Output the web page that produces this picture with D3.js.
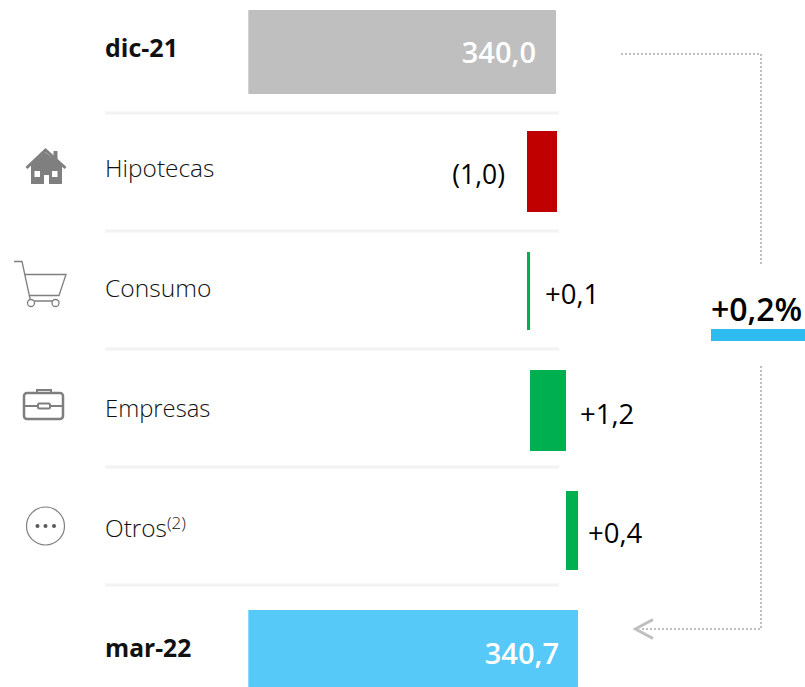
<!DOCTYPE html>
<html><head><meta charset="utf-8">
<script src="https://cdn.jsdelivr.net/npm/d3@7"></script>
<style>html,body{margin:0;padding:0;background:#fff}svg{display:block}text{font-family:"Open Sans",sans-serif}</style>
</head><body><div id="c"></div>
<script>
const categories=["dic-21","Hipotecas","Consumo","Empresas","Otros","mar-22"];
const deltas=[null,-1.0,0.1,1.2,0.4,null];
const totals=[340.0,null,null,null,null,340.7];
const valueLabels=["340,0","(1,0)","+0,1","+1,2","+0,4","340,7"];
const changeLabel="+0,2%";
const axisBase=329.71;
const W=805,H=687;
const svg=d3.select("#c").append("svg").attr("width",W).attr("height",H);
const x=d3.scaleLinear().domain([339,341]).range([527,587]);
const tops=[10,131,252,370,491,610],heights=[84,81,78,81,79,77];
const seps=[113,231,349,467,585];
svg.selectAll("rect.sep").data(seps).join("rect").attr("class","sep").attr("x",105).attr("width",454).attr("y",d=>d-1.5).attr("height",3).attr("fill","#f2f2f2");
let run=totals[0];
const bars=categories.map((c,i)=>{
  if(totals[i]!=null)return{i,a:axisBase,b:totals[i],fill:i==0?"#bfbfbf":"#56c9f8"};
  const s=run;run+=deltas[i];
  return{i,a:Math.min(s,run),b:Math.max(s,run),fill:deltas[i]<0?"#c00000":"#00b050"};
});
svg.selectAll("rect.bar").data(bars).join("rect").attr("class","bar")
 .attr("x",d=>x(d.a)).attr("width",d=>x(d.b)-x(d.a)-(d.i==0?1:0)).attr("y",d=>tops[d.i]).attr("height",d=>heights[d.i]).attr("rx",d=>d.i==0?1:0).attr("fill",d=>d.fill);
const labY=[57,177,297,417,537,657];
const labS=[25,24.400,24.600,23.800,24.400,24.600];
categories.forEach((c,i)=>{
  const bold=i==0||i==5;
  const t=svg.append("text").attr("x",105).attr("y",labY[i]).attr("font-size",labS[i]).attr("font-weight",bold?700:300).attr("fill","#111").text(c);
  if(i==4)t.append("tspan").attr("font-size",17).attr("dy",-8).text("(2)");
});
const VS=27.500;
svg.append("text").attr("x",x(340)-21).attr("y",63).attr("text-anchor","end").attr("font-size",29).attr("font-weight",600).attr("fill","#fff").text(valueLabels[0]);
svg.append("text").attr("x",x(340.7)-19).attr("y",664).attr("text-anchor","end").attr("font-size",29).attr("font-weight",600).attr("fill","#fff").text(valueLabels[5]);
svg.append("text").attr("x",x(339)-22).attr("y",184).attr("text-anchor","end").attr("font-size",26.500).attr("fill","#000").text(valueLabels[1]);
[[2,304,15],[3,424,14],[4,543,10]].forEach(([i,y,o])=>{
  svg.append("text").attr("x",x(bars[i].b)+o).attr("y",y).attr("font-size",VS).attr("fill","#000").text(valueLabels[i]);
});
svg.append("text").attr("x",711).attr("y",321).attr("font-size",32).attr("font-weight",600).attr("fill","#000").text(changeLabel);
svg.append("rect").attr("x",711).attr("y",329).attr("width",94).attr("height",12).attr("fill","#2dbbf0");
const dot=p=>svg.append("path").attr("d",p).attr("fill","none").attr("stroke","#bfbfbf").attr("stroke-width",2).attr("stroke-dasharray","2 2");
dot("M621,54H761V265");
dot("M761,366V629H640");
svg.append("path").attr("d","M653,619.500L635.500,629L653,638.500").attr("fill","none").attr("stroke","#bfbfbf").attr("stroke-width",3);
const ic="#7f7f7f";
svg.append("path").attr("fill",ic).attr("fill-rule","evenodd").attr("d","M31,165L45,152L62,165V184H49V175H44V184H31ZM34.500,171V177H40V171ZM52,171V177H57.500V171Z");
svg.append("path").attr("fill","none").attr("stroke",ic).attr("stroke-width",3).attr("d","M26.500,168L45.500,150L65.500,168");
svg.append("rect").attr("x",53.500).attr("y",151).attr("width",4).attr("height",9).attr("fill",ic);
const cart=svg.append("g").attr("fill","none").attr("stroke",ic).attr("stroke-width",1.300);
cart.append("path").attr("d","M14,261.500H22L30.500,301H58M25,274.500H66L59,295.500H30");
cart.append("circle").attr("cx",31).attr("cy",303).attr("r",3.500).attr("fill","#fff");
cart.append("circle").attr("cx",55.500).attr("cy",303).attr("r",3.500).attr("fill","#fff");
const br=svg.append("g").attr("fill","none").attr("stroke",ic).attr("stroke-width",2.500);
br.append("rect").attr("x",24).attr("y",393).attr("width",39).attr("height",26).attr("rx",3);
br.append("path").attr("stroke-width",2).attr("d","M37,392V390H51V392M24,406H38M50,406H63");
br.append("rect").attr("x",38).attr("y",403.500).attr("width",12).attr("height",5).attr("rx",1.500).attr("stroke-width",2);
svg.append("circle").attr("cx",45.500).attr("cy",526).attr("r",19).attr("fill","none").attr("stroke",ic).attr("stroke-width",1.200);
[37.500,45.500,54].forEach(cx=>svg.append("circle").attr("cx",cx).attr("cy",526).attr("r",2).attr("fill","#595959"));
</script></body></html>
